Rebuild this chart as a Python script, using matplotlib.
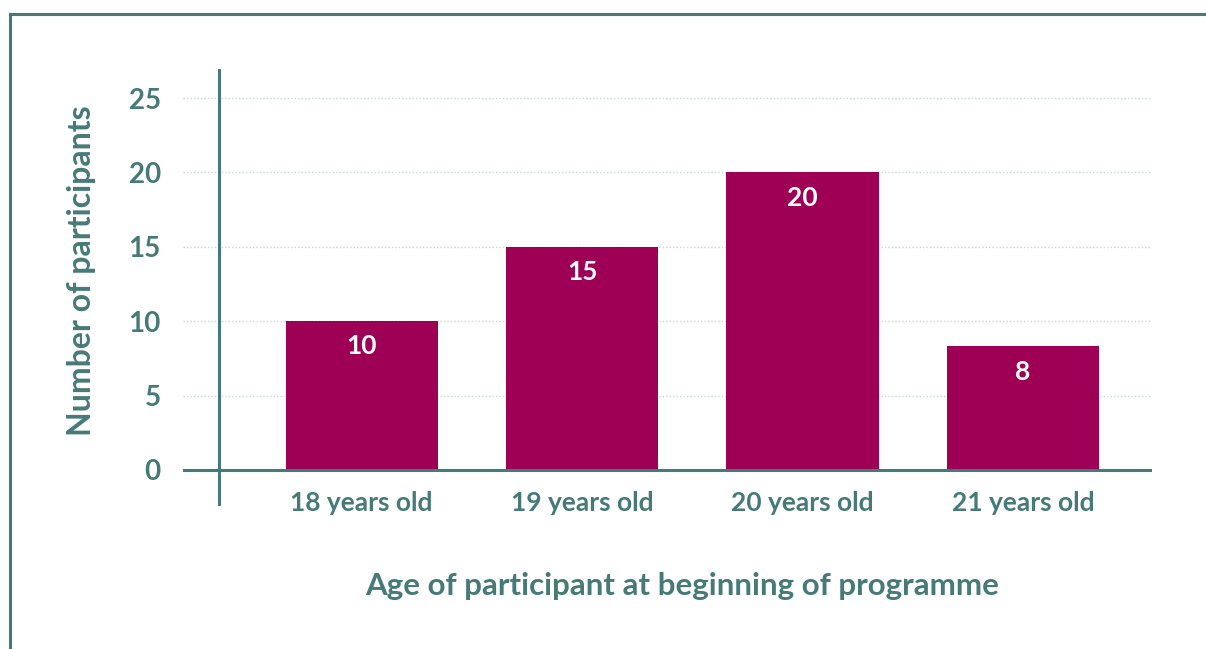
import matplotlib
matplotlib.use("Agg")
import matplotlib.pyplot as plt
from matplotlib.lines import Line2D

categories = ["18 years old", "19 years old", "20 years old", "21 years old"]
participants = [10, 15, 20, 8.3]
bar_labels = ["10", "15", "20", "8"]
yticks = [0, 5, 10, 15, 20, 25]

TEAL = "#467a78"
BAR = "#9e0056"
GRID = "#c9d5d5"

plt.rcParams['font.family'] = ['Lato', 'DejaVu Sans']

fig = plt.figure(figsize=(12.06, 6.49), dpi=100)
ax = fig.add_axes([183/1206, 1-506/649, (1152-183)/1206, (506-69)/649])

x = list(range(len(categories)))
ax.bar(x, participants, width=0.69, color=BAR, zorder=2)

ax.set_xlim(-0.811, 3.586)
ax.set_ylim(-2.42, 26.95)

for s in ax.spines.values():
    s.set_visible(False)

# grid lines
for t in yticks[1:]:
    ax.axhline(t, color=GRID, lw=1.0, ls=(0, (1, 1.5)), zorder=1)
# axis lines
ax.axhline(0, color=TEAL, lw=2.2, zorder=3)
ax.axvline(-0.647, color=TEAL, lw=2.2, zorder=3)

ax.set_yticks(yticks)
ax.set_yticklabels([str(t) for t in yticks])
ax.tick_params(axis='y', length=0, pad=16, labelsize=20, labelcolor=TEAL)
for lbl in ax.get_yticklabels():
    lbl.set_fontweight('bold')

ax.set_xticks(x)
ax.set_xticklabels(categories)
ax.tick_params(axis='x', length=0, pad=-11, labelsize=19, labelcolor=TEAL)
for lbl in ax.get_xticklabels():
    lbl.set_fontweight('bold')

for xi, v, lab in zip(x, participants, bar_labels):
    ax.text(xi, v - 1.7, lab, ha='center', va='center', color='white',
            fontsize=19, fontweight='bold', zorder=4)

fig.text(82/1206, 1-271/649, "Number of participants", rotation=90, ha='center',
         va='center', color=TEAL, fontsize=23, fontweight='bold')
fig.text(682/1206, 1-586/649, "Age of participant at beginning of programme",
         ha='center', va='center', color=TEAL, fontsize=22.5, fontweight='bold')

# outer frame lines (top and left)
fig.add_artist(Line2D([9.5/1206, 1.0], [1-13.5/649, 1-13.5/649], color=TEAL, lw=2.2,
                      transform=fig.transFigure))
fig.add_artist(Line2D([9.5/1206, 9.5/1206], [1-13.5/649, 0], color=TEAL, lw=2.2,
                      transform=fig.transFigure))

fig.savefig("out.png", dpi=100)
